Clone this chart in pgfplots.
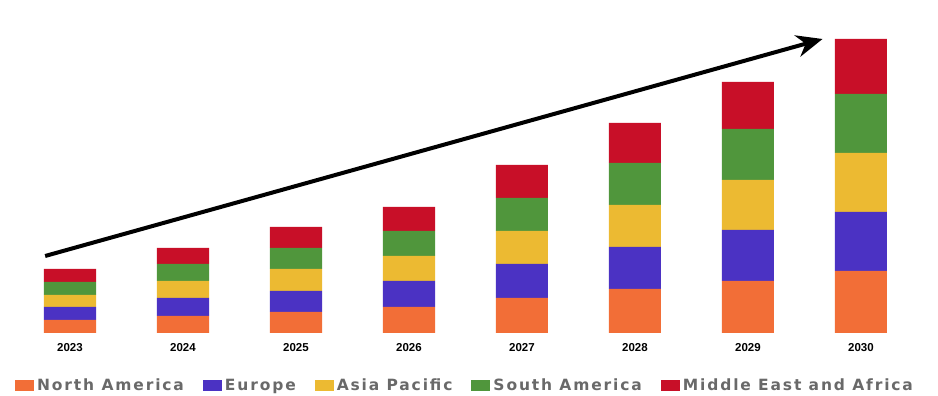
\documentclass[border=0pt]{standalone}
\usepackage{fontspec}
\usepackage{pgfplots}
\pgfplotsset{compat=1.18}
\usetikzlibrary{arrows.meta}
\newfontfamily\tickfont{Liberation Sans}
\newfontfamily\legfont{DejaVu Sans}[LetterSpace=12.0]
\definecolor{cNA}{RGB}{242,110,55}
\definecolor{cEU}{RGB}{75,50,195}
\definecolor{cAP}{RGB}{236,186,50}
\definecolor{cSA}{RGB}{80,150,60}
\definecolor{cME}{RGB}{200,15,40}
\definecolor{legtext}{RGB}{105,105,105}
\begin{document}
\begin{tikzpicture}[x=1pt,y=1pt]
\useasboundingbox (0,0) rectangle (938,396);
\begin{axis}[
  at={(2.2pt,63pt)}, anchor=south west,
  scale only axis, width=926.6pt, height=320pt,
  xmin=-0.6, xmax=7.6, ymin=0, ymax=320,
  ybar stacked, bar width=52pt,
  axis line style={draw=none},
  ytick=\empty,
  xtick=data,
  xticklabels={2023,2024,2025,2026,2027,2028,2029,2030},
  major tick length=0pt,
  xticklabel style={font=\tickfont\bfseries\fontsize{11.5}{13}\selectfont, yshift=-7pt},
  legend columns=5,
  legend style={draw=none, fill=none, at={(0.4995,-0.166)}, anchor=center,
    font=\legfont\bfseries\fontsize{15.5}{17}\selectfont\color{legtext},
    nodes={text height=11.5pt, text depth=3.5pt},
    /tikz/every even column/.append style={column sep=17pt},
    /tikz/every odd column/.append style={column sep=1pt},
    inner sep=0pt},
  legend image code/.code={\fill[#1] (0pt,-4.5pt) rectangle (19pt,6.5pt);},
  every axis plot/.append style={draw=none},
]
\addplot[fill=cNA] coordinates {(0,13) (1,17) (2,21) (3,26) (4,35) (5,44) (6,52) (7,62)};
\addplot[fill=cEU] coordinates {(0,13) (1,18) (2,21) (3,26) (4,34) (5,42) (6,51) (7,59)};
\addplot[fill=cAP] coordinates {(0,12) (1,17) (2,22) (3,25) (4,33) (5,42) (6,50) (7,59)};
\addplot[fill=cSA] coordinates {(0,13) (1,17) (2,21) (3,25) (4,33) (5,42) (6,51) (7,59)};
\addplot[fill=cME] coordinates {(0,13) (1,16) (2,21) (3,24) (4,33) (5,40) (6,47) (7,55)};
\legend{North America,Europe,Asia Pacific,South America,Middle East and Africa}
\draw[line width=4pt, black, -{Stealth[length=26pt,width=22pt]}] (axis cs:-0.22,77) -- (axis cs:6.66,294);
\end{axis}
\end{tikzpicture}
\end{document}
